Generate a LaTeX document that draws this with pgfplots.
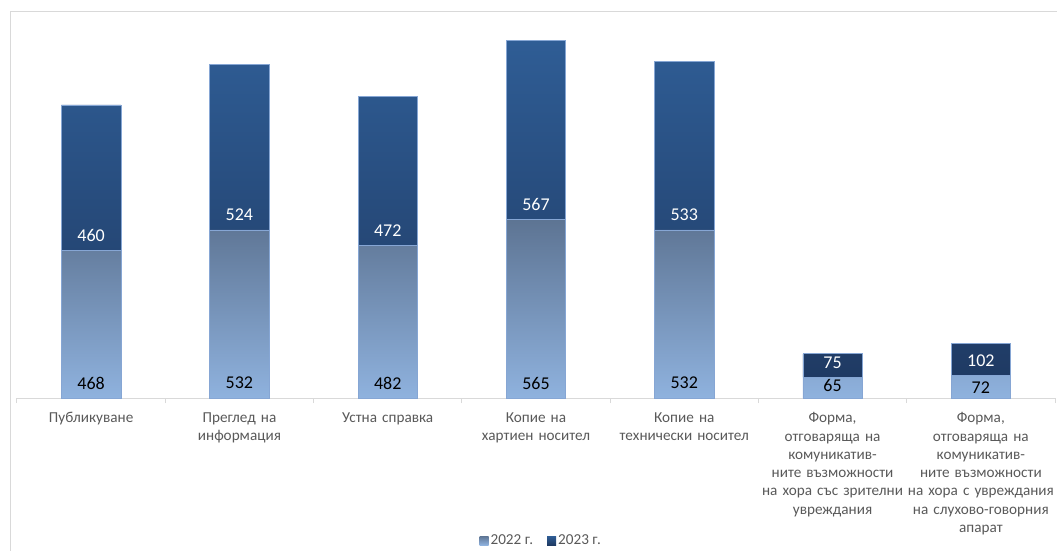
\documentclass[border=0pt]{standalone}
\usepackage{fontspec}
\setmainfont{Carlito}
\usepackage{pgfplots}
\pgfplotsset{compat=1.18}
\usepackage{pgfplotstable}
\definecolor{cAtop}{HTML}{5D7493}
\definecolor{cAbot}{HTML}{8FB2DE}
\definecolor{cBtop}{HTML}{2F5D95}
\definecolor{cBbot}{HTML}{1F3A63}
\definecolor{edge}{HTML}{86A6D4}
\definecolor{axgray}{HTML}{D9D9D9}
\definecolor{txt}{HTML}{595959}

\pgfplotstableread{
x v22 v23
0 468 460
1 532 524
2 482 472
3 565 567
4 532 533
5 65 75
6 72 102
}\datatable

\pgfplotstableread{
x base val off
0 0 468 15
1 0 532 15
2 0 482 15
3 0 565 15
4 0 532 15
5 0 65 13
6 0 72 10
}\labA

\pgfplotstableread{
x base val off
0 468 460 15
1 532 524 15
2 482 472 15
3 565 567 15
4 532 533 15
5 65 75 15
6 72 102 15
}\labB

\begin{document}
\begin{tikzpicture}
\useasboundingbox (-17pt,-153pt) rectangle (1040pt,398pt);
\begin{scope}
\clip (-17pt,-153pt) rectangle (1040pt,398pt);
\draw[axgray, line width=1pt] (-6pt,-200pt) rectangle (1100pt,386pt);
\end{scope}
\pgfplotsset{base/.style={
  width=1038pt, height=379pt, scale only axis,
  at={(0pt,0pt)}, anchor=south west,
  xmin=-0.5, xmax=6.5, ymin=0, ymax=1200,
  clip=false,
}}
\begin{axis}[base,
  ybar stacked, bar width=0.4,
  axis x line*=bottom, axis y line=none,
  x axis line style={-, axgray, line width=1pt},
  xtick={0,...,6},
  xticklabels={{Публикуване},{Преглед на\\информация},{Устна справка},{Копие на\\хартиен носител},{Копие на\\технически носител},{Форма,\\отговаряща на\\комуникатив-\\ните възможности\\на хора със зрителни\\увреждания},{Форма,\\отговаряща на\\комуникатив-\\ните възможности\\на хора с увреждания\\на слухово-говорния\\апарат}},
  major tick length=0pt,
  minor xtick={-0.5,0.5,...,6.5},
  minor tick length=5pt,
  xtick align=outside,
  minor tick style={axgray, line width=1pt},
  xticklabel style={text width=150pt, align=center, anchor=north, yshift=-11pt,
    font=\fontsize{15.2}{18.3}\selectfont, text=txt},
  legend style={at={(0.505,-0.376)}, anchor=center, draw=none, fill=none,
    legend columns=2, font=\fontsize{15.2}{17}\selectfont, text=txt,
    /tikz/every even column/.append style={column sep=12pt}},
  legend image code/.code={\path[#1, draw=none] (0pt,-4.5pt) rectangle (9pt,4.5pt);},
]
\addplot[draw=edge, line width=0.6pt, top color=cAtop, bottom color=cAbot] table[x=x,y=v22]{\datatable};
\addlegendentry{2022 г.}
\addplot[draw=edge, line width=0.6pt, top color=cBtop, bottom color=cBbot] table[x=x,y=v23]{\datatable};
\addlegendentry{2023 г.}
\end{axis}
\begin{axis}[base, hide axis]
\addplot[only marks, mark=none, nodes near coords, point meta=explicit symbolic,
  visualization depends on={\thisrow{off}\as\off},
  nodes near coords style={anchor=center, yshift=\off pt, font=\fontsize{18}{20}\selectfont, text=black}]
  table[x=x,y=base,meta=val]{\labA};
\addplot[only marks, mark=none, nodes near coords, point meta=explicit symbolic,
  visualization depends on={\thisrow{off}\as\off},
  nodes near coords style={anchor=center, yshift=\off pt, font=\fontsize{18}{20}\selectfont, text=white}]
  table[x=x,y=base,meta=val]{\labB};
\end{axis}
\end{tikzpicture}
\end{document}
